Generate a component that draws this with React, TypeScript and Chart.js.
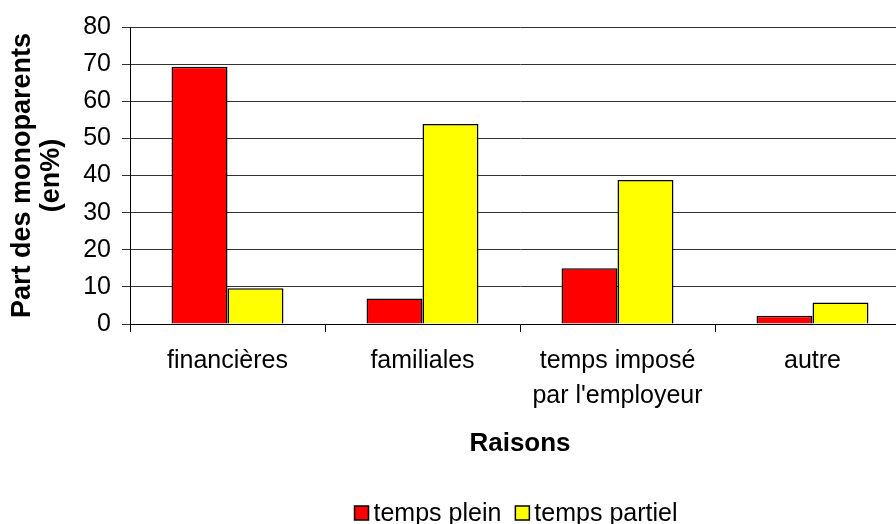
import React, { useEffect, useRef } from "react";
import { Chart, registerables } from "chart.js";

Chart.register(...registerables);

const categories: (string | string[])[] = ["financières", "familiales", ["temps imposé", "par l'employeur"], "autre"];
const seriesLabels = ["temps plein", "temps partiel"];
const tempsPlein = [69.3, 6.9, 15.0, 2.2];
const tempsPartiel = [9.6, 53.9, 38.8, 5.8];
const seriesColors = ["#FF0000", "#FFFF00"];
const yTitle = ["Part des monoparents", "(en%)"];
const xTitle = "Raisons";
const yMin = 0;
const yMax = 80;
const yStep = 10;

const FONT = '"Liberation Sans", Arial, Helvetica, sans-serif';

const legendPlugin = {
  id: "excelLegend",
  afterDraw(chart: any) {
    const ctx = chart.ctx as CanvasRenderingContext2D;
    ctx.save();
    ctx.font = `25px ${FONT}`;
    ctx.textBaseline = "middle";
    ctx.textAlign = "left";
    const box = 14;
    const gapText = 5;
    const gapItem = 14;
    const items = chart.data.datasets.map((ds: any) => ({
      label: ds.label as string,
      color: ds.backgroundColor as string,
      w: ctx.measureText(ds.label).width,
    }));
    const total = items.reduce(
      (s: number, it: any, i: number) => s + box + gapText + it.w + (i > 0 ? gapItem : 0),
      0
    );
    const centerX = 516;
    const cy = 513;
    let x = centerX - total / 2;
    items.forEach((it: any, i: number) => {
      if (i > 0) x += gapItem;
      ctx.fillStyle = it.color;
      ctx.fillRect(x, cy - box / 2, box, box);
      ctx.strokeStyle = "#000";
      ctx.lineWidth = 1.5;
      ctx.strokeRect(x, cy - box / 2, box, box);
      x += box + gapText;
      ctx.fillStyle = "#000";
      ctx.fillText(it.label, x, cy + 1);
      x += it.w;
    });
    ctx.restore();
  },
};

export default function App() {
  const canvasRef = useRef<HTMLCanvasElement | null>(null);

  useEffect(() => {
    if (!canvasRef.current) return;
    const chart = new Chart(canvasRef.current, {
      type: "bar",
      data: {
        labels: categories as any,
        datasets: [
          {
            label: seriesLabels[0],
            data: tempsPlein,
            backgroundColor: seriesColors[0],
            borderColor: "#000",
            borderWidth: 1.5,
            categoryPercentage: 0.574,
            barPercentage: 1,
          },
          {
            label: seriesLabels[1],
            data: tempsPartiel,
            backgroundColor: seriesColors[1],
            borderColor: "#000",
            borderWidth: 1.5,
            categoryPercentage: 0.574,
            barPercentage: 1,
          },
        ],
      },
      options: {
        responsive: false,
        animation: false,
        devicePixelRatio: 1,
        layout: { padding: { top: 27, right: 10, left: 0, bottom: 0 } },
        plugins: {
          legend: { display: false },
          tooltip: { enabled: false },
          title: { display: false },
        },
        scales: {
          x: {
            offset: true,
            grid: {
              display: true,
              drawOnChartArea: false,
              drawTicks: true,
              tickLength: 8,
              color: "#000",
              offset: true,
            },
            border: { display: true, color: "#000", width: 1 },
            ticks: {
              color: "#000",
              font: { family: FONT, size: 25, lineHeight: 1.4 },
              padding: 12,
              maxRotation: 0,
              autoSkip: false,
            },
            title: {
              display: true,
              text: xTitle,
              color: "#000",
              font: { family: FONT, size: 26, weight: "bold", lineHeight: 1.2 },
              padding: { top: 0, bottom: 65 },
            },
            afterFit: (scale: any) => {
              scale.height = 200;
            },
          },
          y: {
            min: yMin,
            max: yMax,
            ticks: {
              stepSize: yStep,
              color: "#000",
              font: { family: FONT, size: 25 },
              padding: 11,
            },
            grid: {
              color: "#333",
              tickLength: 8,
              lineWidth: 1,
            },
            border: { display: true, color: "#000", width: 1 },
            title: {
              display: true,
              text: yTitle,
              color: "#000",
              font: { family: FONT, size: 27, weight: "bold", lineHeight: 1.08 },
              padding: { top: 8, bottom: 0 },
            },
            afterFit: (scale: any) => {
              scale.width = 130;
            },
          },
        },
      },
      plugins: [legendPlugin],
    });
    return () => chart.destroy();
  }, []);

  return (
    <div
      style={{
        position: "fixed",
        left: 0,
        top: 0,
        width: 896,
        height: 524,
        overflow: "hidden",
        background: "#fff",
      }}
    >
      <canvas ref={canvasRef} width={920} height={524} style={{ display: "block", width: 920, height: 524 }} />
    </div>
  );
}
